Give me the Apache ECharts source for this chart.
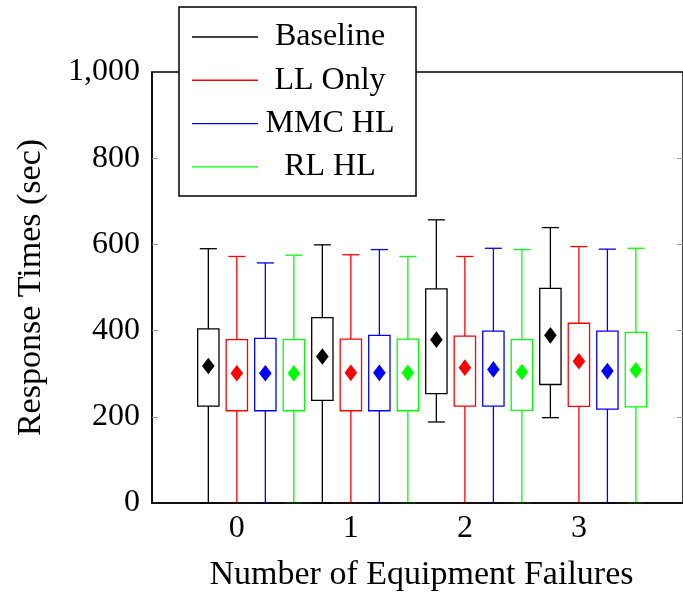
<!DOCTYPE html>
<html>
<head>
<meta charset="utf-8">
<script src="https://cdn.jsdelivr.net/npm/echarts@6/dist/echarts.min.js"></script>
<style>
  html, body { margin: 0; padding: 0; background: #fff; }
  #chart { width: 683px; height: 597px; }
</style>
</head>
<body>
<div id="chart"></div>
<script>
// Number of equipment failures (x categories)
const failureCounts = [0, 1, 2, 3];
const seriesNames = ['Baseline', 'LL Only', 'MMC HL', 'RL HL'];

// Response-time statistics per failure count: [min, Q1, Q3, max, mean]
const baselineStats = [
  [0, 225, 404, 590, 318],
  [0, 238, 430, 599, 340],
  [188, 254, 497, 657, 379],
  [198, 275, 498, 639, 389]
];
const llOnlyStats = [
  [0, 214, 379, 572, 301],
  [0, 214, 380, 576, 302],
  [0, 225, 387, 572, 314],
  [0, 224, 417, 595, 329]
];
const mmcHlStats = [
  [0, 214, 382, 557, 301],
  [0, 214, 389, 588, 302],
  [0, 225, 399, 591, 310],
  [0, 218, 399, 589, 306]
];
const rlHlStats = [
  [0, 214, 379, 575, 301],
  [0, 214, 380, 572, 302],
  [0, 215, 379, 588, 304],
  [0, 223, 396, 591, 308]
];

const yTicks = [0, 200, 400, 600, 800, 1000];

// Layout / style
const allStats = [baselineStats, llOnlyStats, mmcHlStats, rlHlStats];
const seriesColors = ['#000000', '#ff0000', '#0000ff', '#00ff00'];
const boxOffsets = [-0.25, 0, 0.25, 0.5];
const BOX_WIDTH = 0.187;
const CAP_WIDTH = 0.15;
const FONT = '"Liberation Serif", "DejaVu Serif", serif';
const FS = 32;
const TITLE_FS = 34;

function renderBox(params, api) {
  const x = api.value(0);
  const lo = api.coord([x, api.value(1)]);
  const q1 = api.coord([x, api.value(2)]);
  const q3 = api.coord([x, api.value(3)]);
  const hi = api.coord([x, api.value(4)]);
  const mean = api.coord([x, api.value(5)]);
  const bw = api.size([BOX_WIDTH, 0])[0];
  const cw = api.size([CAP_WIDTH, 0])[0];
  const color = api.visual('color');
  const cx = lo[0];
  const lineStyle = { stroke: color, lineWidth: 1.3, fill: null };
  const dx = 6.3, dy = 8.3;
  return {
    type: 'group',
    children: [
      { type: 'line', shape: { x1: cx, y1: lo[1], x2: cx, y2: q1[1] }, style: lineStyle },
      { type: 'line', shape: { x1: cx, y1: q3[1], x2: cx, y2: hi[1] }, style: lineStyle },
      { type: 'line', shape: { x1: cx - cw / 2, y1: lo[1], x2: cx + cw / 2, y2: lo[1] }, style: lineStyle },
      { type: 'line', shape: { x1: cx - cw / 2, y1: hi[1], x2: cx + cw / 2, y2: hi[1] }, style: lineStyle },
      { type: 'rect', shape: { x: cx - bw / 2, y: q3[1], width: bw, height: q1[1] - q3[1] },
        style: { stroke: color, lineWidth: 1.3, fill: '#fff' } },
      { type: 'polygon', shape: { points: [[mean[0], mean[1] - dy], [mean[0] + dx, mean[1]], [mean[0], mean[1] + dy], [mean[0] - dx, mean[1]]] },
        style: { fill: color, stroke: null } }
    ]
  };
}

const series = seriesNames.map((name, s) => ({
  name: name,
  type: 'custom',
  renderItem: renderBox,
  itemStyle: { color: seriesColors[s] },
  encode: { x: 0, y: [1, 2, 3, 4, 5] },
  data: failureCounts.map((g, i) => [g + boxOffsets[s]].concat(allStats[s][i]))
}));

const chart = echarts.init(document.getElementById('chart'), null, { renderer: 'canvas' });
chart.setOption({
  animation: false,
  backgroundColor: '#fff',
  grid: {
    left: 152, top: 72, right: -1, bottom: 93,
    show: true, borderColor: '#000', borderWidth: 1.5, backgroundColor: 'transparent'
  },
  legend: {
    orient: 'vertical',
    left: 179, top: 7,
    padding: [14, 19, 13, 13],
    itemGap: 11.3,
    itemWidth: 66,
    itemHeight: 1.4,
    icon: 'rect',
    backgroundColor: '#fff',
    borderColor: '#000',
    borderWidth: 1.5,
    z: 10,
    data: seriesNames.map((n, s) => ({ name: n, itemStyle: { color: seriesColors[s] } })),
    formatter: n => '{t|' + n + '}',
    textStyle: {
      fontFamily: FONT, fontSize: FS, color: '#000',
      rich: { t: { width: 134, align: 'center', fontFamily: FONT, fontSize: FS, lineHeight: FS } }
    }
  },
  xAxis: {
    type: 'value',
    min: -0.744, max: 3.913,
    z: 5,
    name: 'Number of Equipment Failures',
    nameLocation: 'middle',
    nameGap: 55,
    nameTextStyle: { fontFamily: FONT, fontSize: TITLE_FS, color: '#000', padding: [0, 0, 0, 8] },
    axisLine: { show: true, onZero: false, lineStyle: { color: '#000', width: 1.5 } },
    axisTick: { show: false },
    splitLine: { show: false },
    axisLabel: {
      customValues: failureCounts,
      margin: 10,
      fontFamily: FONT, fontSize: FS, color: '#000'
    }
  },
  yAxis: [{
    type: 'value',
    min: 0, max: 1000, interval: 200,
    z: 5,
    name: 'Response Times (sec)',
    nameLocation: 'middle',
    nameGap: 104,
    nameTextStyle: { fontFamily: FONT, fontSize: TITLE_FS, color: '#000' },
    axisLine: { show: true, onZero: false, lineStyle: { color: '#000', width: 1.5 } },
    axisTick: { show: true, inside: true, length: 6, lineStyle: { color: '#999', width: 1 },
      customValues: yTicks.slice(1, -1) },
    splitLine: { show: false },
    axisLabel: {
      customValues: yTicks,
      margin: 12,
      fontFamily: FONT, fontSize: FS, color: '#000',
      formatter: v => v.toLocaleString('en-US')
    }
  }, {
    type: 'value',
    position: 'right',
    min: 0, max: 1000, interval: 200,
    axisLine: { show: false, onZero: false },
    axisTick: { show: true, inside: true, length: 6, lineStyle: { color: '#999', width: 1 },
      customValues: yTicks.slice(1, -1) },
    axisLabel: { show: false },
    splitLine: { show: false }
  }],
  series: series
});
</script>
</body>
</html>
